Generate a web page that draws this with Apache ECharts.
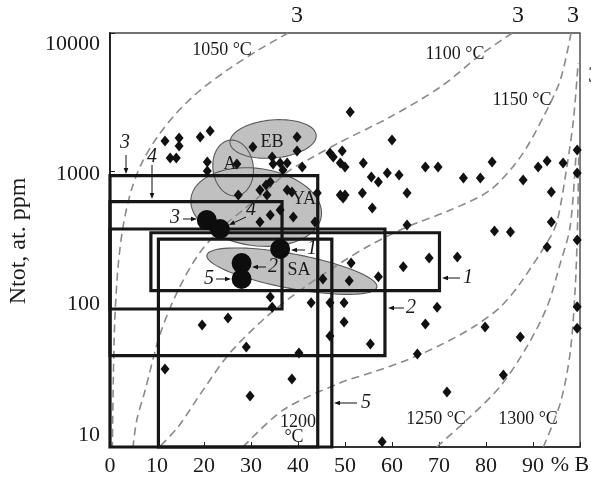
<!DOCTYPE html>
<html lang="en">
<head>
<meta charset="UTF-8">
<title>Ntot vs B</title>
<script src="https://cdn.jsdelivr.net/npm/echarts@6/dist/echarts.min.js"></script>
<style>
  html, body { margin: 0; padding: 0; background: #fff; }
  #chart { width: 591px; height: 477px; }
</style>
</head>
<body>
<div id="chart"></div>
<script type="text/javascript">
    // diamonds: single samples (% B, Ntot at. ppm)
    var diamondX = [21.3, 51.1, 39.8, 39.8, 49.4, 40.9, 11.7, 14.7, 14.7, 19.2, 12.8, 14.1, 20.7, 20.7, 27.0, 30.4,
        34.5, 34.7, 36.2, 37.7, 36.8, 46.8, 47.5, 49.0, 50.0, 60.0, 61.5, 69.8, 93.0, 53.9, 55.6, 57.1, 59.0, 67.1,
        75.2, 78.8, 81.3, 87.9, 91.1, 96.4, 63.2, 93.9, 50.0, 49.6, 27.3, 49.0, 53.7, 55.8, 43.6, 39.0, 36.2, 34.1,
        31.9, 33.2, 34.1, 31.9, 33.4, 37.7, 38.7, 44.1, 63.2, 81.8, 85.2, 93.9, 93.0, 62.4, 67.9, 73.9, 51.3, 50.9,
        57.1, 49.8, 69.6, 49.8, 67.1, 79.8, 87.3, 55.4, 65.4, 83.7, 71.7, 57.9, 34.1, 34.5, 42.8, 46.8, 46.8, 25.1,
        19.6, 29.0, 40.2, 11.7, 38.7, 29.8, 45.3, 99.4, 99.4, 99.4, 99.4, 99.4];
    var diamondY = [1950, 2676, 1764, 1396, 1396, 1069, 1650, 1734, 1518, 1764, 1243, 1243, 1162, 1000, 1124, 1493,
        1263, 1124, 1143, 1143, 1017, 1350, 1263, 1143, 1069, 1677, 935, 1069, 1182, 1143, 905, 833, 967, 1069,
        890, 890, 1162, 861, 1069, 1143, 693, 704, 670, 637, 670, 670, 693, 539, 427, 464, 522, 480,
        427, 792, 833, 728, 670, 728, 704, 693, 406, 367, 361, 427, 281, 202, 234, 238, 215, 160,
        171, 111, 103, 80.5, 77.8, 74.1, 62.7, 55.8, 47.2, 33.2, 25.0, 10.9, 122, 103, 111, 111, 63.7, 86,
        76.6, 53.0, 48.0, 36.7, 31.1, 23.4, 165, 1420, 967, 316, 104, 72.4];

    // big black dots 3, 4, 1, 2, 5
    var dotX = [20.6, 23.4, 36.2, 28.0, 28.0];
    var dotY = [441, 380, 272, 215, 165];

    // rectangles 1..5
    var boxX0 = [8.7, 0, 0, 0, 10.3];
    var boxX1 = [70.1, 58.5, 44.2, 36.6, 47.2];
    var boxY0 = [136, 46, 10, 100, 10];
    var boxY1 = [357, 380, 925, 600, 321];

    // grey fields: centre, half width (% B), half height (decades), tilt (deg)
    var fieldNames = ['YA', 'SA', 'EB', 'A'];
    var fieldX = [31.1, 38.7, 34.7, 26.2];
    var fieldY = [548, 188, 1706, 1052];
    var fieldRx = [14.0, 18.4, 9.2, 4.3];
    var fieldRy = [0.28, 0.125, 0.138, 0.203];
    var fieldRot = [-8, -10.6, 5, 7];

    // isotherms
    var iso1050 = [[37.9, 10000], [31.5, 7500], [25.0, 5400], [19.0, 3800], [14.0, 2600], [10.0, 1750], [6.8, 1150],
        [4.5, 720], [2.8, 400], [1.7, 200], [1.0, 80], [0.7, 30], [0.5, 10]];
    var iso1100 = [[85.6, 10000], [78.8, 6934], [70.3, 4064], [59.6, 2461], [49.0, 1622], [43.2, 1262], [38.3, 1016],
        [33.4, 728], [28.3, 521], [24.9, 420], [19.2, 259], [14.5, 137], [10.6, 64.9], [7.5, 25.9], [5.7, 15.7], [4.9, 10]];
    var iso1150 = [[98.1, 10000], [95.8, 4560], [92.2, 2461], [87.3, 1262], [80.9, 728], [72.4, 521], [63.2, 393],
        [55.4, 291], [49.0, 215], [40.5, 137], [33.0, 86.1], [25.5, 48], [19.5, 25], [14.5, 14], [10.5, 10]];
    var iso1200 = [[28.3, 10], [36.8, 18.5], [49.0, 29.2], [56.0, 34.9], [63.2, 42.7], [70.3, 54.8], [77.3, 74],
        [83.0, 103], [87.3, 154], [93.7, 333], [95.2, 441], [97.1, 1016], [98.6, 2344], [99.6, 6064]];
    var iso1250 = [[69.5, 10], [75.9, 15.7], [83.0, 27.4], [88.7, 53.3], [93.0, 104], [95.8, 214], [97.9, 394], [99.2, 1420]];
    var iso1300 = [[92.2, 10], [95.8, 20.8], [97.9, 48.0], [99.0, 145], [99.5, 441], [99.75, 1420]];

    var xTickLabels = ['0', '10', '20', '30', '40', '50', '60', '70', '80', '90', ''];

    var serif = '"Liberation Serif", "DejaVu Serif", serif';

    drawChart();

    function ellipsePoints(api, i) {
        var c = api.coord([fieldX[i], fieldY[i]]);
        var ux = api.coord([fieldX[i] + 1, fieldY[i]])[0] - c[0];
        var dec = api.coord([fieldX[i], fieldY[i] / 10])[1] - c[1];
        var a = fieldRx[i] * ux, b = fieldRy[i] * dec, th = fieldRot[i] * Math.PI / 180;
        var pts = [];
        for (var k = 0; k < 72; k++) {
            var t = k / 72 * Math.PI * 2;
            var ex = a * Math.cos(t), ey = b * Math.sin(t);
            pts.push([c[0] + ex * Math.cos(th) - ey * Math.sin(th), c[1] - (ex * Math.sin(th) + ey * Math.cos(th))]);
        }
        return pts;
    }

    function arrow(x1, y1, x2, y2) {
        var ang = Math.atan2(y2 - y1, x2 - x1), L = 6, W = 2.3;
        var bx = x2 - L * Math.cos(ang), by = y2 - L * Math.sin(ang);
        return [
            {type: 'line', shape: {x1: x1, y1: y1, x2: bx, y2: by}, style: {stroke: '#111', lineWidth: 1}, z: 20},
            {type: 'polygon', shape: {points: [[x2, y2],
                [bx + W * Math.sin(ang), by - W * Math.cos(ang)],
                [bx - W * Math.sin(ang), by + W * Math.cos(ang)]]}, style: {fill: '#111'}, z: 20}
        ];
    }

    function label(txt, x, y, size, italic) {
        return {
            type: 'text', x: x, y: y, z: 20,
            style: {
                text: txt, fill: '#1a1a1a',
                font: (italic ? 'italic ' : '') + size + 'px ' + serif,
                textAlign: 'center', textVerticalAlign: 'middle', align: 'center', verticalAlign: 'middle'
            }
        };
    }

    function drawChart() {
        var chart = echarts.init(document.getElementById('chart'));

        var diamonds = diamondX.map(function (x, i) { return [x, diamondY[i]]; });
        var dots = dotX.map(function (x, i) { return [x, dotY[i]]; });
        var boxes = boxX0.map(function (x, i) { return [x, boxX1[i], boxY0[i], boxY1[i]]; });
        var fields = fieldNames.map(function (n, i) { return [fieldX[i], fieldY[i], i]; });

        var isoStyle = {color: '#8a8a8a', width: 1.6, type: [8, 5]};
        function isoSeries(d) {
            return {type: 'line', data: d, smooth: 0.3, symbol: 'none', z: 3, lineStyle: isoStyle, silent: true};
        }

        var graphics = [
            label('Ntot, at. ppm', 0, 0, 24, false),
            label('3', 297, 16, 24, false), label('3', 518, 16, 24, false), label('3', 573, 16, 24, false),
            label('3', 594, 76, 24, false),
            label('1050 °C', 222, 50, 18), label('1100 °C', 455, 54, 18), label('1150 °C', 522, 100, 18),
            label('1200', 298, 422, 18), label('°C', 294, 437, 18),
            label('1250 °C', 436, 419, 18), label('1300 °C', 528, 419, 18),
            label('EB', 272, 142, 18), label('A', 230, 164, 18), label('YA', 304, 199, 18), label('SA', 299, 270, 18),
            label('% B', 570, 465, 22),
            label('3', 125, 143, 20, true), label('4', 152, 157, 20, true),
            label('3', 175, 218, 20, true), label('4', 251, 210, 20, true),
            label('1', 312, 249, 20, true), label('2', 273, 267, 20, true), label('5', 209, 279, 20, true),
            label('1', 468, 278, 20, true), label('2', 411, 308, 20, true), label('5', 366, 403, 20, true)
        ];
        graphics[0].x = 19; graphics[0].y = 241; graphics[0].rotation = Math.PI / 2;
        graphics = graphics
            .concat(arrow(126, 155, 126, 174)).concat(arrow(152, 165, 152, 199))
            .concat(arrow(183, 219, 197, 219)).concat(arrow(246, 217, 229, 225))
            .concat(arrow(305, 250, 291, 250)).concat(arrow(266, 267, 252, 267))
            .concat(arrow(216, 279, 231, 279)).concat(arrow(460, 278, 442, 278))
            .concat(arrow(404, 308, 388, 308)).concat(arrow(357, 403, 334, 403));

        var option = {
            animation: false,
            grid: {left: 110, right: 11, top: 33, bottom: 30, show: true, borderColor: '#444', borderWidth: 1.4},
            xAxis: {
                type: 'value', min: 0, max: 100, interval: 10,
                axisLine: {lineStyle: {color: '#222', width: 1.5}},
                axisTick: {inside: true, length: 5, lineStyle: {color: '#222'}},
                splitLine: {show: false},
                axisLabel: {
                    color: '#1a1a1a', fontFamily: serif, fontSize: 22, margin: 8,
                    formatter: function (v) { return xTickLabels[Math.round(v / 10)]; }
                }
            },
            yAxis: {
                type: 'log', logBase: 10, min: 10, max: 10000,
                axisLine: {lineStyle: {color: '#222', width: 2}},
                axisTick: {inside: true, length: 5, lineStyle: {color: '#222'}},
                splitLine: {show: false},
                axisLabel: {
                    color: '#1a1a1a', fontFamily: serif, fontSize: 22, margin: 10,
                    formatter: function (v) {
                        var k = Math.round(Math.log10(v));
                        return '{o' + k + '|' + Math.round(v) + '}';
                    },
                    rich: {
                        o1: {fontFamily: serif, fontSize: 22, padding: [0, 0, 24, 0]},
                        o2: {fontFamily: serif, fontSize: 22, padding: [0, 0, 10, 0]},
                        o3: {fontFamily: serif, fontSize: 22, padding: [6, 0, 0, 0]},
                        o4: {fontFamily: serif, fontSize: 22, padding: [22, 0, 0, 0]}
                    }
                }
            },
            graphic: graphics,
            series: [
                // grey fields fill
                {
                    type: 'custom', data: fields, z: 1, silent: true,
                    renderItem: function (params, api) {
                        return {type: 'polygon', shape: {points: ellipsePoints(api, params.dataIndex)},
                            style: {fill: '#c0c0c0', stroke: null}};
                    }
                },
                // grey fields outline
                {
                    type: 'custom', data: fields, z: 2, silent: true,
                    renderItem: function (params, api) {
                        return {type: 'polygon', shape: {points: ellipsePoints(api, params.dataIndex)},
                            style: {fill: 'none', stroke: '#5a5a5a', lineWidth: 1.1}};
                    }
                },
                isoSeries(iso1050), isoSeries(iso1100), isoSeries(iso1150),
                isoSeries(iso1200), isoSeries(iso1250), isoSeries(iso1300),
                // rectangles
                {
                    type: 'custom', data: boxes, z: 4, silent: true,
                    renderItem: function (params, api) {
                        var p0 = api.coord([api.value(0), api.value(2)]);
                        var p1 = api.coord([api.value(1), api.value(3)]);
                        return {type: 'rect', shape: {x: p0[0], y: p1[1], width: p1[0] - p0[0], height: p0[1] - p1[1]},
                            style: {fill: 'none', stroke: '#161616', lineWidth: 3.2}};
                    }
                },
                {
                    type: 'scatter', data: diamonds, symbol: 'diamond', symbolSize: [9, 11], z: 5, silent: true,
                    itemStyle: {color: '#111', opacity: 1}
                },
                {
                    type: 'scatter', data: dots, symbol: 'circle', symbolSize: 20, z: 6, silent: true,
                    itemStyle: {color: '#0d0d0d', opacity: 1}
                }
            ]
        };
        chart.setOption(option);
    }
</script>
</body>
</html>
